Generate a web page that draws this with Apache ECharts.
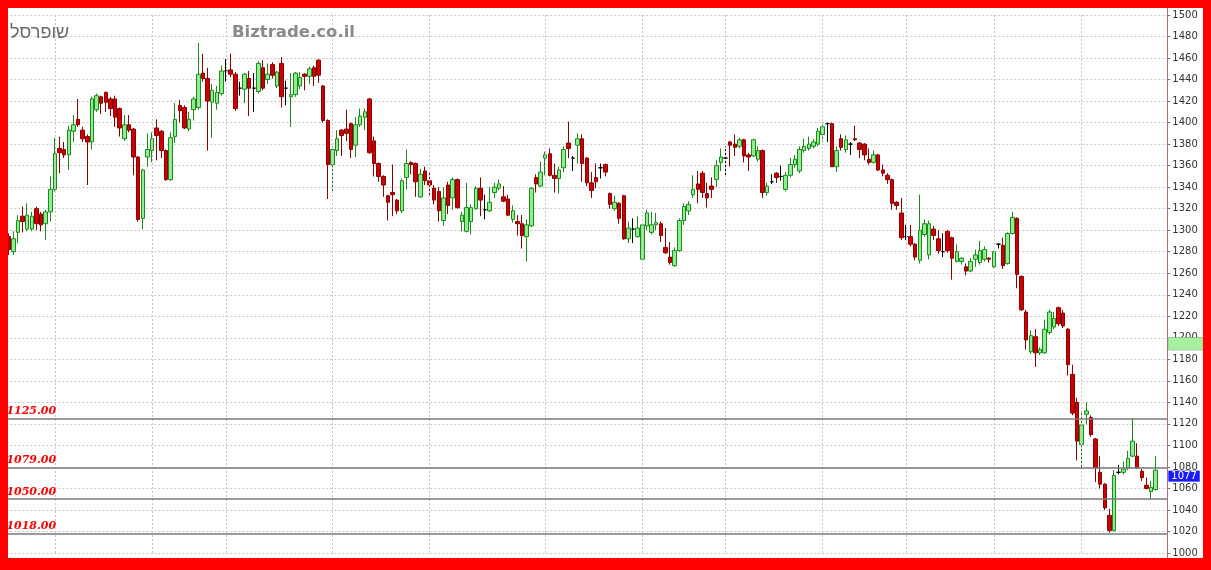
<!DOCTYPE html>
<html><head><meta charset="utf-8">
<script src="https://cdn.jsdelivr.net/npm/echarts@6/dist/echarts.min.js"></script>
<style>html,body{margin:0;padding:0;background:#fff}#c{width:1211px;height:570px}</style>
</head><body><div id="c"></div>
<script>
// [open, close, low, high]
const ohlc = [
[1294,1282,1277,1297],[1280,1292,1277,1299],[1298,1309,1288,1314],[1313,1308,1298,1322],[1301,1314,1299,1325],
[1301,1313,1299,1317],[1320,1306,1300,1322],[1315,1305,1299,1317],[1306,1317,1291,1319],[1317,1338,1308,1350],
[1338,1371,1336,1386],[1376,1372,1353,1387],[1375,1370,1367,1382],[1370,1393,1356,1397],[1392,1398,1382,1407],
[1403,1398,1396,1422],[1393,1385,1382,1396],[1387,1382,1342,1389],[1382,1422,1375,1424],[1412,1425,1410,1427],
[1424,1418,1408,1425],[1428,1419,1410,1429],[1422,1413,1406,1424],[1422,1405,1396,1425],[1413,1395,1387,1414],
[1385,1398,1383,1407],[1398,1393,1391,1407],[1394,1368,1351,1395],[1368,1310,1308,1369],[1311,1356,1301,1357],
[1368,1375,1359,1390],[1374,1385,1363,1391],[1395,1388,1365,1403],[1392,1374,1367,1393],[1374,1347,1346,1375],
[1347,1386,1346,1391],[1387,1403,1381,1418],[1416,1411,1400,1421],[1414,1395,1394,1416],[1394,1403,1392,1410],
[1412,1422,1402,1424],[1414,1445,1412,1474],[1446,1441,1438,1464],[1441,1420,1374,1451],[1419,1430,1386,1436],
[1418,1428,1412,1434],[1427,1448,1425,1453],[1448,1448,1438,1459],[1449,1445,1442,1464],[1445,1413,1411,1447],
[1432,1432,1425,1438],[1431,1445,1418,1446],[1441,1432,1406,1448],[1432,1432,1410,1446],[1429,1455,1427,1457],
[1451,1432,1430,1458],[1440,1445,1436,1455],[1454,1444,1441,1456],[1434,1447,1432,1448],[1455,1424,1414,1461],
[1432,1432,1416,1439],[1424,1426,1396,1446],[1426,1446,1424,1447],[1434,1442,1431,1447],[1445,1443,1430,1446],
[1443,1450,1436,1452],[1451,1443,1434,1453],[1458,1444,1437,1459],[1434,1402,1400,1435],[1402,1361,1329,1403],
[1361,1375,1336,1378],[1374,1385,1369,1393],[1393,1388,1369,1394],[1394,1390,1383,1412],[1399,1375,1367,1400],
[1379,1398,1368,1405],[1398,1406,1396,1413],[1405,1410,1393,1413],[1422,1372,1371,1423],[1383,1362,1350,1387],
[1362,1350,1345,1363],[1350,1342,1331,1351],[1332,1326,1309,1333],[1335,1333,1313,1361],[1328,1318,1315,1329],
[1318,1346,1316,1348],[1349,1362,1338,1375],[1363,1361,1352,1364],[1362,1345,1331,1363],[1331,1352,1330,1357],
[1355,1346,1342,1359],[1346,1342,1331,1353],[1339,1328,1324,1342],[1336,1318,1308,1340],[1309,1330,1304,1340],
[1342,1323,1315,1345],[1330,1347,1319,1349],[1347,1321,1320,1348],[1308,1314,1299,1317],[1299,1321,1298,1344],
[1308,1321,1296,1324],[1320,1339,1319,1341],[1339,1328,1313,1349],[1319,1319,1310,1333],[1318,1326,1317,1340],
[1335,1340,1330,1344],[1339,1343,1337,1347],[1331,1327,1326,1341],[1329,1314,1313,1333],[1310,1318,1307,1323],
[1308,1306,1295,1314],[1306,1295,1283,1314],[1294,1305,1271,1310],[1304,1339,1303,1340],[1349,1343,1335,1352],
[1341,1354,1340,1364],[1367,1370,1351,1373],[1371,1351,1350,1376],[1351,1348,1335,1362],[1348,1356,1334,1359],
[1358,1375,1354,1378],[1381,1376,1367,1401],[1367,1367,1355,1369],[1379,1385,1362,1390],[1385,1362,1345,1389],
[1367,1344,1341,1368],[1344,1337,1330,1354],[1349,1345,1339,1362],[1358,1358,1348,1362],[1361,1354,1350,1362],
[1334,1324,1320,1335],[1320,1326,1318,1332],[1325,1311,1306,1326],[1332,1292,1291,1333],[1292,1302,1288,1308],
[1301,1301,1288,1311],[1294,1302,1293,1313],[1273,1305,1272,1306],[1304,1316,1300,1319],[1298,1305,1296,1317],
[1305,1307,1300,1316],[1306,1295,1289,1308],[1284,1279,1278,1302],[1275,1270,1268,1289],[1267,1281,1266,1284],
[1281,1309,1280,1311],[1309,1322,1305,1325],[1318,1324,1314,1327],[1333,1338,1330,1351],[1343,1338,1325,1355],
[1353,1335,1330,1355],[1334,1330,1321,1344],[1341,1338,1330,1349],[1347,1360,1340,1365],[1363,1368,1355,1376],
[1367,1367,1351,1378],[1382,1379,1359,1383],[1380,1377,1369,1389],[1378,1384,1376,1386],[1384,1369,1363,1385],
[1370,1368,1355,1372],[1369,1384,1368,1385],[1366,1374,1364,1378],[1374,1335,1330,1375],[1335,1341,1332,1344],
[1345,1345,1343,1352],[1353,1349,1344,1354],[1350,1350,1346,1360],[1338,1351,1336,1354],[1351,1361,1349,1367],
[1361,1366,1358,1370],[1355,1375,1353,1378],[1374,1378,1372,1385],[1376,1380,1374,1387],[1378,1382,1376,1385],
[1380,1392,1378,1395],[1389,1396,1382,1400],[1399,1399,1382,1400],[1399,1359,1359,1400],[1359,1374,1354,1378],
[1385,1377,1374,1389],[1375,1384,1372,1388],[1380,1380,1370,1382],[1385,1384,1383,1397],[1381,1375,1367,1382],
[1380,1370,1365,1381],[1366,1363,1361,1376],[1363,1370,1362,1374],[1370,1356,1355,1371],[1356,1353,1350,1361],
[1351,1347,1343,1353],[1347,1325,1319,1348],[1326,1323,1319,1327],[1316,1293,1291,1330],[1294,1294,1291,1305],
[1294,1287,1285,1305],[1287,1275,1272,1288],[1272,1300,1269,1333],[1296,1306,1294,1310],[1277,1306,1273,1309],
[1301,1295,1291,1304],[1292,1281,1278,1300],[1280,1280,1275,1297],[1299,1281,1279,1300],[1293,1274,1254,1294],
[1271,1280,1270,1287],[1271,1274,1268,1275],[1266,1262,1258,1269],[1262,1271,1261,1274],[1273,1277,1266,1282],
[1270,1281,1268,1290],[1273,1282,1271,1285],[1274,1273,1270,1275],[1266,1280,1265,1281],[1287,1287,1283,1288],
[1286,1267,1264,1293],[1269,1297,1268,1298],[1297,1312,1296,1317],[1311,1259,1246,1312],[1257,1226,1225,1258],
[1224,1198,1189,1226],[1187,1202,1185,1207],[1201,1186,1173,1208],[1186,1189,1184,1191],[1186,1208,1185,1217],
[1205,1224,1203,1226],[1210,1218,1208,1224],[1228,1213,1211,1229],[1223,1211,1209,1226],[1208,1175,1165,1209],
[1166,1130,1128,1175],[1140,1104,1086,1144],[1101,1119,1079,1132],[1129,1132,1120,1140],[1126,1110,1108,1128],
[1106,1079,1066,1107],[1075,1064,1060,1090],[1064,1042,1040,1065],[1035,1021,1019,1041],[1021,1072,1020,1077],
[1075,1075,1073,1082],[1075,1078,1073,1085],[1079,1088,1077,1095],[1090,1104,1089,1125],[1090,1079,1078,1102],
[1076,1070,1067,1078],[1063,1060,1059,1070],[1057,1061,1050,1067],[1059,1077,1058,1090]
];
const monthStarts = [10,31,47,70,91,116,137,155,176,194,213,232];
const levels = [1125, 1079, 1050, 1018];
const lastPrice = 1077;
const highlightLevel = 1200;
const padDays = 2;
const yMin = 1000, yMax = 1500, yStep = 20;
const stockName = 'שופרסל';
const siteName = 'Biztrade.co.il';

const days = [];
for (let i = 0; i < ohlc.length + padDays; i++) days.push(String(i + 1));
const seriesData = ohlc.concat(Array(padDays).fill('-'));

const hidden = {color: 'rgba(0,0,0,0)', width: 0};

const chart = echarts.init(document.getElementById('c'), null, {renderer: 'canvas'});
chart.setOption({
  animation: false,
  backgroundColor: '#ffffff',
  grid: {left: 6.4, right: 43.7, top: 15, bottom: 17, containLabel: false},
  xAxis: {
    type: 'category', data: days, boundaryGap: true,
    axisLine: {show: false}, axisTick: {show: false}, axisLabel: {show: false}, splitLine: {show: false}
  },
  yAxis: {
    type: 'value', position: 'right', min: yMin, max: yMax, interval: yStep,
    axisLine: {show: false},
    axisTick: {show: true, length: 3, lineStyle: {color: '#777'}},
    axisLabel: {fontSize: 10, color: '#333', margin: 5, fontFamily: 'DejaVu Sans', formatter: v => String(v)},
    splitLine: {show: true, lineStyle: {color: '#c8c8c8', type: [2, 2], width: 1}}
  },
  series: [
    {
      type: 'line', data: [], silent: true, z: 1,
      markLine: {
        silent: true, symbol: 'none', label: {show: false},
        lineStyle: {color: '#c8c8c8', type: [2, 2], width: 1},
        data: monthStarts.map(i => ({xAxis: i}))
      }
    },
    {
      type: 'candlestick', data: seriesData, barWidth: 4, z: 3,
      itemStyle: {
        color: '#90ee90', color0: '#cc0000',
        borderColor: '#1a8a1a', borderColor0: '#8b0000', borderColorDoji: '#000000', borderWidth: 1
      },
      markLine: {
        silent: true, symbol: 'none', animation: false,
        data: levels.map(v => ({
          yAxis: v,
          lineStyle: {color: '#7a7a7a', type: 'solid', width: 1.5},
          label: {show: true, position: 'insideStartTop', formatter: v.toFixed(2), color: '#ff0000',
                  fontStyle: 'italic', fontWeight: 'bold', fontSize: 11, fontFamily: 'DejaVu Serif', distance: [0, 2]}
        }))
      }
    },
    {
      type: 'line', data: [], silent: true, z: 5,
      markLine: {
        silent: true, symbol: 'none', animation: false,
        data: [
          {yAxis: lastPrice, lineStyle: hidden,
           label: {show: true, position: 'end', formatter: String(lastPrice), color: '#ffffff', backgroundColor: '#1a1aff',
                   fontSize: 10, fontFamily: 'DejaVu Sans', padding: [1, 3, 0, 3], distance: 1, offset: [0, 6]}},
          {yAxis: highlightLevel, lineStyle: hidden,
           label: {show: true, position: 'end', formatter: String(highlightLevel), color: '#a8f0a0', backgroundColor: '#a8f0a0',
                   borderColor: '#6a9a6a', borderWidth: 0.5,
                   fontSize: 10, fontFamily: 'DejaVu Sans', padding: [1, 6, 1, 3], distance: 1, offset: [0, 6]}}
        ]
      }
    }
  ],
  graphic: [
    {type: 'text', left: 232, top: 24, z: 10, style: {text: siteName, fill: '#8a8a8a', font: 'bold 16.5px "DejaVu Sans"'}},
    {type: 'text', left: 10, top: 24, z: 10, style: {text: stockName, fill: '#6a6a6a', font: '18px "Liberation Sans"'}},
    {type: 'rect', left: 1167, top: 8, z: 10, shape: {width: 1, height: 550}, style: {fill: '#b07070'}},
    {type: 'rect', left: 0, top: 0, z: 20, shape: {width: 1211, height: 8}, style: {fill: '#ff0000'}},
    {type: 'rect', left: 0, top: 558, z: 20, shape: {width: 1211, height: 12}, style: {fill: '#ff0000'}},
    {type: 'rect', left: 0, top: 0, z: 20, shape: {width: 8, height: 570}, style: {fill: '#ff0000'}},
    {type: 'rect', left: 1203, top: 0, z: 20, shape: {width: 8, height: 570}, style: {fill: '#ff0000'}}
  ]
});
</script></body></html>
